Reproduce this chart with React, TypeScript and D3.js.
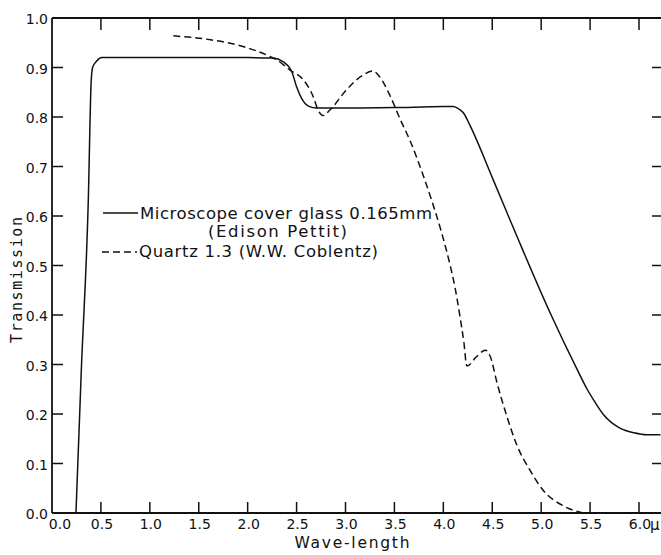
import * as d3 from "d3";

// Microscope cover glass 0.165mm (Edison Pettit) - solid
const glassX = [0.245, 0.3, 0.371, 0.4, 0.415, 0.457, 0.508, 0.6, 1.0, 1.5, 2.0, 2.26, 2.36, 2.45, 2.5, 2.55, 2.62, 2.71, 3.0, 3.5, 4.0, 4.1, 4.16, 4.21, 4.27, 4.51, 4.75, 5.09, 5.37, 5.47, 5.55, 5.64, 5.81, 5.95, 6.08, 6.22];
const glassY = [0, 0.29, 0.632, 0.87, 0.9, 0.913, 0.92, 0.92, 0.92, 0.92, 0.92, 0.919, 0.912, 0.892, 0.861, 0.838, 0.822, 0.818, 0.818, 0.819, 0.821, 0.821, 0.816, 0.807, 0.784, 0.673, 0.56, 0.405, 0.289, 0.25, 0.224, 0.198, 0.171, 0.162, 0.158, 0.158];

// Quartz 1.3 (W.W. Coblentz) - dashed
const quartzX = [1.24, 1.62, 1.96, 2.23, 2.3, 2.43, 2.57, 2.67, 2.72, 2.77, 2.84, 3.01, 3.18, 3.28, 3.35, 3.46, 3.56, 3.66, 3.78, 3.88, 3.98, 4.07, 4.12, 4.17, 4.21, 4.24, 4.34, 4.43, 4.48, 4.55, 4.65, 4.75, 4.89, 5.02, 5.23, 5.43];
const quartzY = [0.964, 0.956, 0.942, 0.922, 0.915, 0.895, 0.875, 0.841, 0.814, 0.803, 0.814, 0.855, 0.885, 0.893, 0.881, 0.841, 0.795, 0.752, 0.69, 0.632, 0.568, 0.5, 0.455, 0.397, 0.345, 0.297, 0.316, 0.329, 0.316, 0.262, 0.195, 0.138, 0.085, 0.046, 0.014, 0];

const xTicks = [0.5, 1.0, 1.5, 2.0, 2.5, 3.0, 3.5, 4.0, 4.5, 5.0, 5.5, 6.0];
const xLabels = ["0.0", "0.5", "1.0", "1.5", "2.0", "2.5", "3.0", "3.5", "4.0", "4.5", "5.0", "5.5", "6.0"];
const yTicks = [0.1, 0.2, 0.3, 0.4, 0.5, 0.6, 0.7, 0.8, 0.9];
const yLabels = ["0.0", "0.1", "0.2", "0.3", "0.4", "0.5", "0.6", "0.7", "0.8", "0.9", "1.0"];

const W = 661, H = 555;
const font = "'DejaVu Sans', sans-serif";

export default function App() {
  const x = d3.scaleLinear().domain([0, 6]).range([52, 639]);
  const y = d3.scaleLinear().domain([0, 1]).range([513, 18]);
  const right = W;

  const line = d3.line<[number, number]>()
    .x((d) => x(d[0]))
    .y((d) => y(d[1]))
    .curve(d3.curveMonotoneX);

  const glass = line(glassX.map((v, i) => [v, glassY[i]]) as [number, number][]) || "";
  const quartz = line(quartzX.map((v, i) => [v, quartzY[i]]) as [number, number][]) || "";

  return (
    <svg width={W} height={H} style={{ position: "absolute", left: 0, top: 0, background: "#fff" }}>
      {/* frame */}
      <g stroke="#111" strokeWidth={1.8} fill="none">
        <line x1={x(0)} y1={y(0)} x2={x(0)} y2={y(1)} />
        <line x1={x(0)} y1={y(0)} x2={right} y2={y(0)} />
        <line x1={x(0)} y1={y(1)} x2={right} y2={y(1)} />
      </g>
      {/* ticks */}
      <g stroke="#111" strokeWidth={1.5}>
        {xTicks.map((t) => (
          <g key={"xt" + t}>
            <line x1={x(t)} x2={x(t)} y1={y(0)} y2={y(0) - 11} />
            <line x1={x(t)} x2={x(t)} y1={y(1)} y2={y(1) + 12} />
          </g>
        ))}
        {yTicks.map((t) => (
          <g key={"yt" + t}>
            <line x1={x(0)} x2={x(0) + 11} y1={y(t)} y2={y(t)} />
            <line x1={right - 9} x2={right} y1={y(t)} y2={y(t)} />
          </g>
        ))}
      </g>
      {/* tick labels */}
      <g fontFamily={font} fontSize={14} fill="#111">
        {xLabels.map((l, i) => (
          <text key={"xl" + l} x={x(i * 0.5) + (i === 0 ? 8 : 1)} y={529} textAnchor="middle">{l}</text>
        ))}
        <text x={650} y={530} fontSize={15}>μ</text>
        {yLabels.map((l, i) => (
          <text key={"yl" + l} x={48} y={y(i * 0.1) + 6} textAnchor="end">{l}</text>
        ))}
      </g>
      {/* axis titles */}
      <text x={352} y={548} fontFamily={font} fontSize={15.5} textAnchor="middle" textLength={115} lengthAdjust="spacing" fill="#111">Wave-length</text>
      <text transform="translate(22,280) rotate(-90)" fontFamily="'DejaVu Sans Mono', monospace" fontSize={15} textAnchor="middle" textLength={126} lengthAdjust="spacing" fill="#111">Transmission</text>
      {/* curves */}
      <path d={glass} fill="none" stroke="#111" strokeWidth={1.5} />
      <path d={quartz} fill="none" stroke="#111" strokeWidth={1.5} strokeDasharray="7,4" />
      {/* legend */}
      <g fontFamily={font} fontSize={16.5} fill="#111">
        <line x1={103} x2={138} y1={213} y2={213} stroke="#111" strokeWidth={1.5} />
        <text x={140} y={219} textLength={292} lengthAdjust="spacing">Microscope cover glass 0.165mm</text>
        <text x={208} y={237} textLength={139} lengthAdjust="spacing">(Edison Pettit)</text>
        <line x1={102} x2={137} y1={252} y2={252} stroke="#111" strokeWidth={1.5} strokeDasharray="7,4" />
        <text x={139} y={257} textLength={239} lengthAdjust="spacing">Quartz 1.3 (W.W. Coblentz)</text>
      </g>
    </svg>
  );
}
